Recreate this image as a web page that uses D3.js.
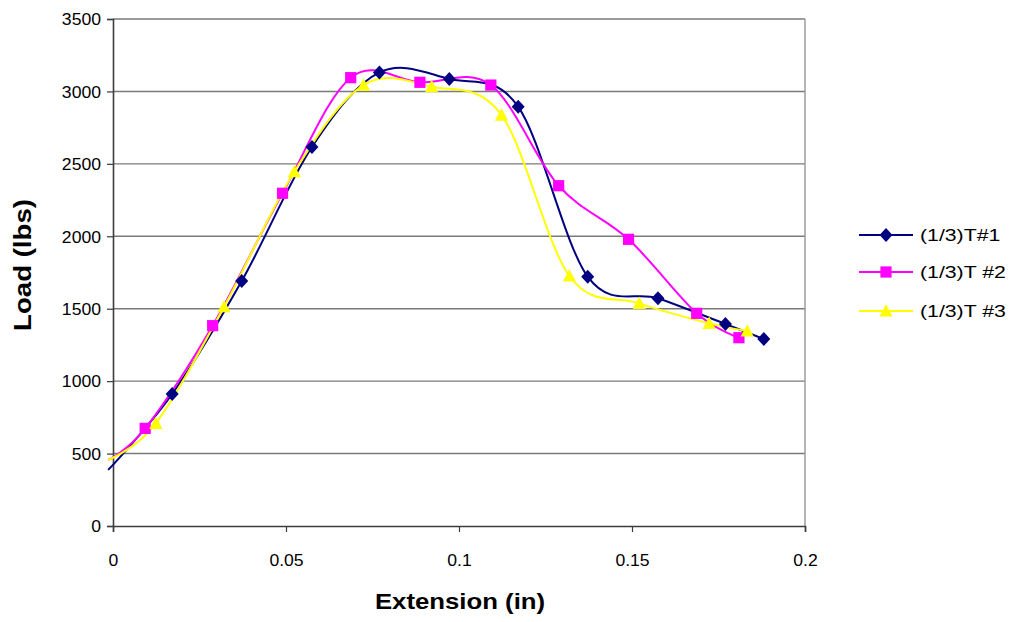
<!DOCTYPE html>
<html>
<head>
<meta charset="utf-8">
<script src="https://cdn.jsdelivr.net/npm/d3@7"></script>
<style>
  body { margin: 0; background: #fff; }
  text { font-family: "Liberation Sans", Arial, sans-serif; fill: #000; }
</style>
</head>
<body>
<svg id="chart" width="1014" height="622"></svg>
<script>
// Load–extension readings for three (1/3)T specimens
const seriesNames = ["(1/3)T#1", "(1/3)T #2", "(1/3)T #3"];

const ext1  = [-0.0014, 0.0171, 0.0372, 0.0575, 0.0770, 0.0972, 0.1171, 0.1372, 0.1575, 0.1770, 0.1881];
const load1 = [387, 911, 1691, 2616, 3131, 3086, 2895, 1721, 1572, 1394, 1291];

const ext2  = [-0.0014, 0.0093, 0.0288, 0.0490, 0.0687, 0.0887, 0.1092, 0.1288, 0.1490, 0.1687, 0.1809];
const load2 = [456, 674, 1383, 2297, 3095, 3063, 3044, 2349, 1979, 1468, 1300];

const ext3  = [-0.0014, 0.0124, 0.0321, 0.0524, 0.0724, 0.0921, 0.1123, 0.1319, 0.1521, 0.1723, 0.1833];
const load3 = [456, 709, 1514, 2446, 3044, 3033, 2837, 1726, 1537, 1399, 1346];

const xTicks = [0, 0.05, 0.1, 0.15, 0.2];
const yTicks = [0, 500, 1000, 1500, 2000, 2500, 3000, 3500];

const colors  = ["#000080", "#FF00FF", "#FFFF00"];
const shapes  = ["diamond", "square", "triangle"];

const series = [
  { name: seriesNames[0], pts: ext1.map((x, i) => [x, load1[i]]) },
  { name: seriesNames[1], pts: ext2.map((x, i) => [x, load2[i]]) },
  { name: seriesNames[2], pts: ext3.map((x, i) => [x, load3[i]]) }
];

const svg = d3.select("#chart");
const plot = { left: 113, right: 805, top: 19, bottom: 526 };

const x = d3.scaleLinear().domain([0, 0.2]).range([plot.left, plot.right]);
const y = d3.scaleLinear().domain([0, 3500]).range([plot.bottom, plot.top]);

// widen text horizontally by factor k
function widen(sel, k) {
  sel.each(function () {
    const w = this.getComputedTextLength();
    d3.select(this).attr("textLength", w * k).attr("lengthAdjust", "spacingAndGlyphs");
  });
}

// horizontal gridlines
svg.append("g")
  .selectAll("line")
  .data(yTicks.filter(d => d > 0))
  .join("line")
  .attr("x1", plot.left).attr("x2", plot.right)
  .attr("y1", d => y(d)).attr("y2", d => y(d))
  .attr("stroke", "#7a7a7a").attr("stroke-width", 1.4);

// right border of plot area
svg.append("line")
  .attr("x1", plot.right).attr("x2", plot.right)
  .attr("y1", plot.top).attr("y2", plot.bottom)
  .attr("stroke", "#969696").attr("stroke-width", 1.4);

// y axis
const yAxis = svg.append("g")
  .attr("transform", `translate(${plot.left},0)`)
  .call(d3.axisLeft(y).tickValues(yTicks).tickSize(6).tickPadding(6).tickFormat(d3.format("d")));
yAxis.select(".domain").attr("stroke", "#3c3c3c").attr("stroke-width", 1.6);
yAxis.selectAll(".tick line").attr("stroke", "#3c3c3c").attr("stroke-width", 1.2);
yAxis.selectAll(".tick text")
  .attr("font-size", 16).attr("font-family", "Liberation Sans, Arial, sans-serif")
  .attr("dy", "0.36em").call(widen, 1.1);

// x axis
const xAxis = svg.append("g")
  .attr("transform", `translate(0,${plot.bottom})`)
  .call(d3.axisBottom(x).tickValues(xTicks).tickSize(6).tickPadding(0).tickFormat(d => d === 0 ? "0" : String(d)));
xAxis.select(".domain").attr("stroke", "#3c3c3c").attr("stroke-width", 1.6);
xAxis.selectAll(".tick line").attr("stroke", "#3c3c3c").attr("stroke-width", 1.2);
xAxis.selectAll(".tick text")
  .attr("font-size", 16).attr("font-family", "Liberation Sans, Arial, sans-serif")
  .attr("y", 40).attr("dy", 0).call(widen, 1.1);

// series lines (smoothed)
const line = d3.line()
  .x(d => x(d[0])).y(d => y(d[1]))
  .curve(d3.curveCardinal.tension(0));

const lineG = svg.append("g");
series.forEach((s, i) => {
  lineG.append("path")
    .attr("d", line(s.pts))
    .attr("fill", "none")
    .attr("stroke", colors[i])
    .attr("stroke-width", 2)
    .attr("stroke-linejoin", "round");
});

// marker shapes
function markerPath(shape) {
  if (shape === "diamond") return "M0,-7 L6.5,0 L0,7 L-6.5,0 Z";
  if (shape === "square") return "M-5.6,-5.6 H5.6 V5.6 H-5.6 Z";
  return "M0,-6.8 L6.6,5.6 L-6.6,5.6 Z";
}

const markG = svg.append("g");
series.forEach((s, i) => {
  markG.append("g")
    .selectAll("path")
    .data(s.pts.filter(p => p[0] >= 0))
    .join("path")
    .attr("transform", d => `translate(${x(d[0])},${y(d[1])})`)
    .attr("d", markerPath(shapes[i]))
    .attr("fill", colors[i]);
});

// axis titles
svg.append("text")
  .attr("x", (plot.left + plot.right) / 2 + 1).attr("y", 609)
  .attr("text-anchor", "middle")
  .attr("font-size", 22).attr("font-weight", "bold")
  .text("Extension (in)").call(widen, 1.17);

svg.append("text")
  .attr("transform", `translate(31,265) rotate(-90)`)
  .attr("text-anchor", "middle")
  .attr("font-size", 23).attr("font-weight", "bold")
  .text("Load (lbs)").call(widen, 1.2);

// legend
const legend = svg.append("g").attr("transform", "translate(859,0)");
const legendRows = [235, 272, 311];
series.forEach((s, i) => {
  const row = legend.append("g").attr("transform", `translate(0,${legendRows[i]})`);
  row.append("line")
    .attr("x1", 0).attr("x2", 54).attr("y1", 0).attr("y2", 0)
    .attr("stroke", colors[i]).attr("stroke-width", 2);
  row.append("path")
    .attr("transform", "translate(27,0)")
    .attr("d", markerPath(shapes[i]))
    .attr("fill", colors[i]);
  row.append("text")
    .attr("x", 61).attr("y", 0).attr("dy", "0.36em")
    .attr("font-size", 17)
    .text(s.name).call(widen, 1.25);
});
</script>
</body>
</html>
